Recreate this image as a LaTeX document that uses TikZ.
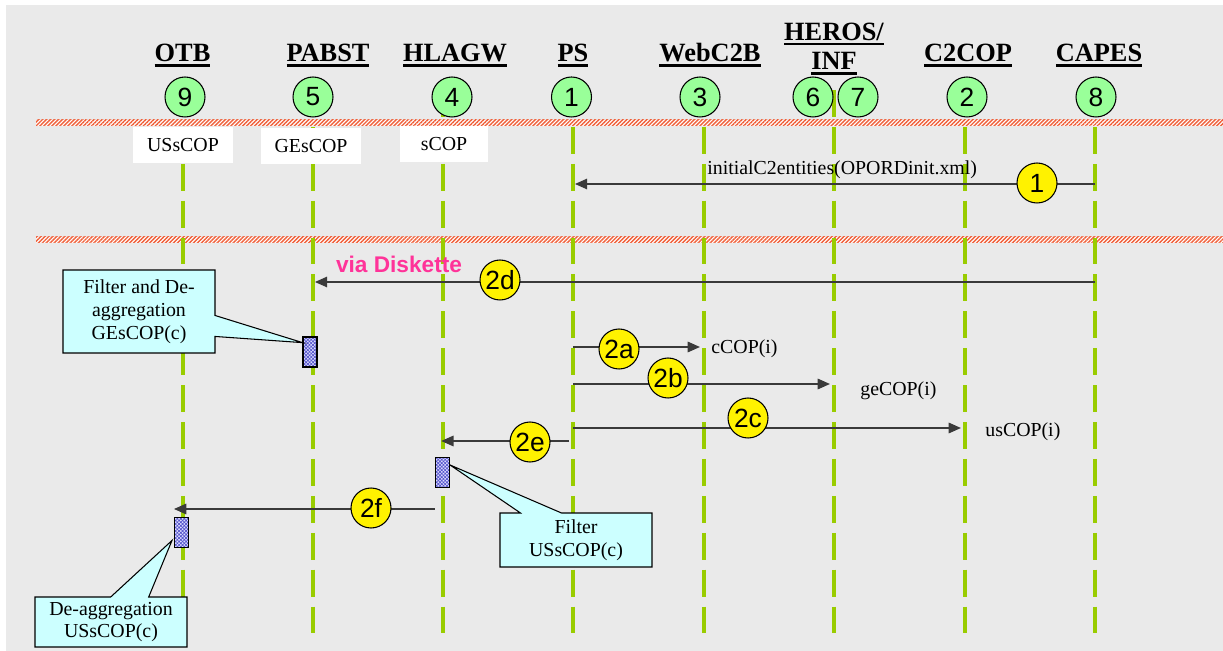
\documentclass[tikz,border=0pt]{standalone}
\usepackage{fontspec}
\setmainfont{Liberation Serif}
\newfontfamily\arialfont{Liberation Sans}
\usetikzlibrary{arrows.meta,shapes.callouts,patterns.meta,calc}

\definecolor{bggray}{HTML}{EAEAEA}
\definecolor{lifegreen}{HTML}{99CC00}
\definecolor{bandred}{HTML}{F0603A}
\definecolor{numgreen}{HTML}{99FF99}
\definecolor{notecyan}{HTML}{CCFFFF}
\definecolor{diskpink}{HTML}{FF3399}
\definecolor{msggray}{HTML}{3A3A3A}
\definecolor{actblue}{HTML}{5555CC}
\definecolor{actfill}{HTML}{DDDDFF}

% underlined system name
\newcommand{\hdr}[1]{\setbox0=\hbox{#1}\rlap{\rule[-2.8pt]{\wd0}{1.4pt}}\box0}

\tikzset{
  sysname/.style={font=\fontsize{15}{17}\selectfont\bfseries, inner sep=0pt, anchor=base},
  sysnum/.style={circle, draw, line width=0.6pt, fill=numgreen, minimum size=0.8cm, inner sep=0pt,
    font=\arialfont\fontsize{15}{15}\selectfont},
  stepnum/.style={sysnum, fill=yellow},
  copbox/.style={fill=white, minimum height=0.72cm, inner sep=0pt, font=\fontsize{11.3}{13}\selectfont},
  lifeline/.style={lifegreen, line width=2.3pt, dash pattern=on 15.3pt off 5.7pt},
  band/.style={preaction={fill=white}, pattern={Lines[angle=45,distance=1.6pt,line width=0.8pt]}, pattern color=bandred},
  msg/.style={draw=msggray, line width=0.85pt, -{Triangle[length=7pt,width=6pt]}},
  msgtext/.style={font=\fontsize{11.3}{13}\selectfont, inner sep=0pt, anchor=base west},
  act/.style={draw, line width=0.6pt, preaction={fill=actfill}, pattern={Hatch[angle=45,distance=1.4pt,line width=0.4pt]},
    pattern color=actblue, minimum width=0.28cm, minimum height=0.6cm, inner sep=0pt},
  note/.style={rectangle callout, draw, line width=0.6pt, fill=notecyan, align=center, inner sep=2pt,
    minimum width=3.04cm, font=\fontsize{11.3}{13}\selectfont}
}

\begin{document}
\begin{tikzpicture}[x=0.02cm, y=-0.02cm]
\useasboundingbox (0,0) rectangle (1223,651);
\fill[bggray] (6,5) rectangle (1223,651);

% hatched separators
\path[band] (36,120) rectangle (1223,126);
\path[band] (36,237) rectangle (1223,243);

% lifelines
\foreach \n/\x in {otb/183, pabst/313, hlagw/443, ps/573, webc2b/704, heros/834, c2cop/965, capes/1095}{
  \coordinate (\n) at (\x,90);
  \draw[lifeline] (\n) -- (\x,637);
}

% systems
\node[sysname] (otb-name) at (182.5,62) {\hdr{OTB}};
\node[sysname] (pabst-name) at (328,62) {\hdr{PABST}};
\node[sysname] (hlagw-name) at (455,62) {\hdr{HLAGW}};
\node[sysname] (ps-name) at (573,62) {\hdr{PS}};
\node[sysname] (webc2b-name) at (710,62) {\hdr{WebC2B}};
\node[sysname, align=center] (heros-name) at (834,70) {\hdr{HEROS/}\\\hdr{INF}};
\node[sysname] (c2cop-name) at (968,62) {\hdr{C2COP}};
\node[sysname] (capes-name) at (1099,62) {\hdr{CAPES}};

\node[sysnum] (otb-num) at (185,97) {9};
\node[sysnum] (pabst-num) at (313,97) {5};
\node[sysnum] (hlagw-num) at (452,97) {4};
\node[sysnum] (ps-num) at (571.5,97) {1};
\node[sysnum] (webc2b-num) at (700,97) {3};
\node[sysnum] (heros-num) at (813,97) {6};
\node[sysnum] (inf-num) at (858,97) {7};
\node[sysnum] (c2cop-num) at (967,97) {2};
\node[sysnum] (capes-num) at (1096,97) {8};

\node[copbox, minimum width=2.02cm] (otb-cop) at (183,145) {USsCOP};
\node[copbox, minimum width=2.02cm] (pabst-cop) at (311,146) {GEsCOP};
\node[copbox, minimum width=1.76cm] (hlagw-cop) at (444,144.5) {sCOP};

% message rows
\path (0,184) coordinate (r1) (0,282) coordinate (r2d) (0,347) coordinate (r2a)
      (0,384) coordinate (r2b) (0,428) coordinate (r2c) (0,441) coordinate (r2e)
      (0,509) coordinate (r2f);

\draw[msg, shorten >=1.1pt] (capes |- r1) -- (ps |- r1);
\node[msgtext] (m1-text) at (707,175) {initialC2entities(OPORDinit.xml)};
\node[stepnum] (s1) at (1037,183) {1};

\draw[msg, shorten >=1.1pt] (capes |- r2d) -- (pabst |- r2d);
\node[font=\arialfont\bfseries\fontsize{12.9}{14}\selectfont, text=diskpink, inner sep=0pt] (disk) at (399,264) {via Diskette};
\node[stepnum] (s2d) at (500,280) {2d};

\draw[msg, shorten >=2.3pt] (ps |- r2a) -- (webc2b |- r2a);
\node[stepnum] (s2a) at (619,349) {2a};
\node[msgtext] (m2a-text) at (711,354) {cCOP(i)};

\draw[msg, shorten >=2.3pt] (ps |- r2b) -- (heros |- r2b);
\node[stepnum] (s2b) at (668,378) {2b};
\node[msgtext] (m2b-text) at (860,396) {geCOP(i)};

\draw[msg, shorten >=2.3pt] (ps |- r2c) -- (c2cop |- r2c);
\node[stepnum] (s2c) at (748,418) {2c};
\node[msgtext] (m2c-text) at (985,437) {usCOP(i)};

\draw[msg, shorten >=-1pt] ([xshift=-0.08cm]ps |- r2e) -- (hlagw |- r2e);
\node[stepnum] (s2e) at (530,442) {2e};

% processing
\node[act] (act1) at (310,352) {};
\node[act] (act2) at (442.5,472.5) {};
\node[act] (act3) at (181.5,532.5) {};

\draw[msg] (act2.west |- r2f) -- (act3.west |- r2f);
\node[stepnum] (s2f) at (371,508) {2f};

% notes
\node[note, minimum height=1.66cm, callout pointer width=0.42cm,
  callout absolute pointer={($(act1.north west)+(0,6)$)}] (note1) at (139,311.5)
  {Filter and De-\\aggregation\\GEsCOP(c)};
\node[note, minimum height=1.08cm, callout pointer width=0.82cm,
  callout absolute pointer={($(act2.north east)+(0,8)$)}] (note2) at (576,540)
  {Filter\\USsCOP(c)};
\node[note, minimum height=1.0cm, callout pointer width=0.76cm,
  callout absolute pointer={($(act3.west)+(-2,8)$)}] (note3) at (111,622)
  {De-aggregation\\USsCOP(c)};
\end{tikzpicture}
\end{document}
